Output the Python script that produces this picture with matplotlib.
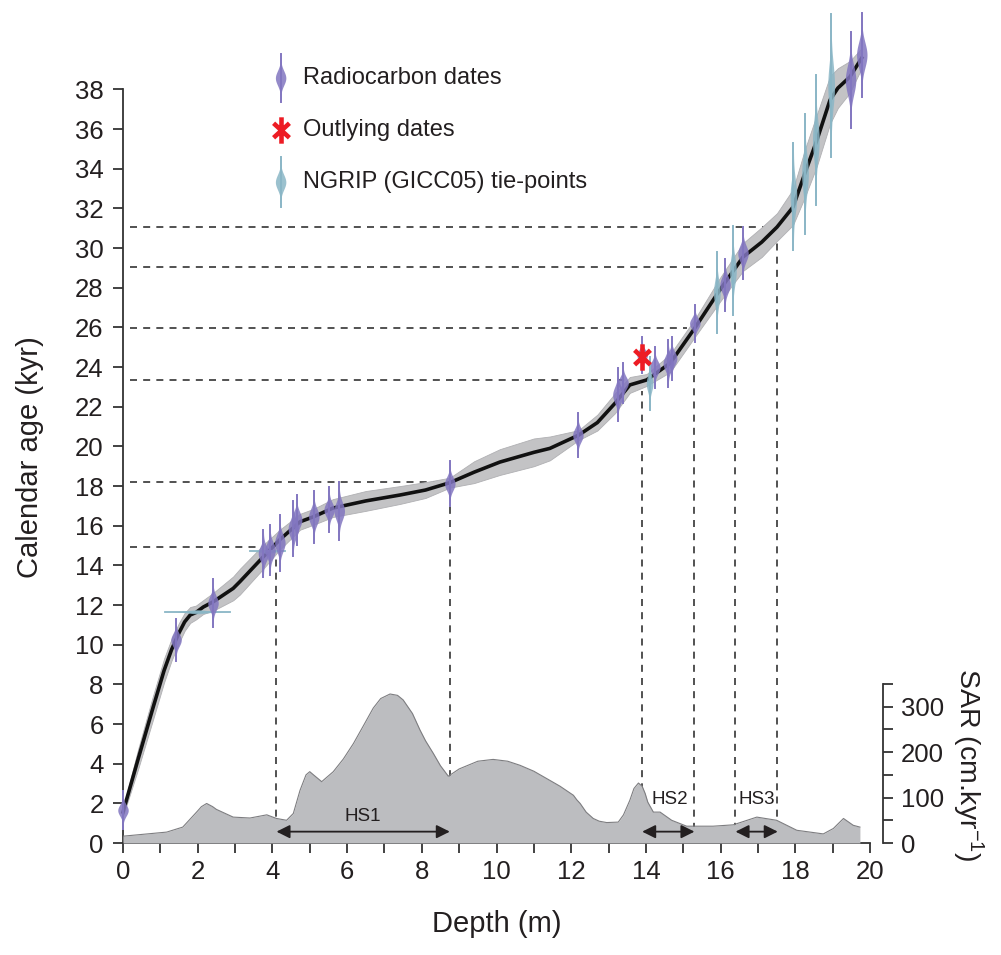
import numpy as np
import matplotlib
matplotlib.use("Agg")
import matplotlib.pyplot as plt
from matplotlib.path import Path

plt.rcParams['font.family'] = ['Liberation Sans', 'DejaVu Sans']
plt.rcParams['mathtext.fontset'] = 'custom'
plt.rcParams['mathtext.rm'] = 'Liberation Sans'
plt.rcParams['mathtext.it'] = 'Liberation Sans:italic'

# age-depth model (median) and half width of the uncertainty envelope
curve_depth = [0.0, 0.4, 0.8, 1.1, 1.3, 1.5, 1.65, 1.8, 1.95, 2.15, 2.42, 2.95, 3.13,
               3.76, 4.2, 4.74, 5.1, 5.62, 6.5, 7.42, 8.1, 8.75, 9.4, 10.09, 11.0,
               11.43, 12.2, 12.7, 13.17, 13.57, 14.02, 14.65, 15.31, 15.98, 16.6,
               17.1, 17.51, 17.94, 18.26, 18.58, 18.93, 19.14, 19.46, 19.78]
curve_age = [1.56, 4.2, 6.8, 8.7, 9.75, 10.6, 11.15, 11.5, 11.62, 11.9, 12.17, 12.84,
             13.18, 14.44, 15.3, 16.2, 16.45, 16.89, 17.25, 17.55, 17.8, 18.17, 18.7,
             19.21, 19.7, 19.9, 20.57, 21.2, 22.17, 23.1, 23.35, 24.2, 25.97, 27.89,
             29.55, 30.3, 31.06, 32.07, 33.79, 35.45, 37.47, 38.07, 38.63, 39.59]
curve_err = [0.2, 0.5, 0.6, 0.6, 0.55, 0.5, 0.45, 0.4, 0.35, 0.35, 0.45, 0.6, 0.65,
             0.6, 0.5, 0.4, 0.4, 0.45, 0.5, 0.45, 0.4, 0.25, 0.55, 0.65, 0.7,
             0.6, 0.25, 0.4, 0.5, 0.4, 0.3, 0.45, 0.45, 0.6, 0.7, 0.75, 0.7,
             0.9, 1.2, 1.3, 1.2, 1.0, 0.8, 0.5]

# radiocarbon dates: depth (m), age (kyr), half range (kyr)
c14_depth = [0.0, 1.42, 2.41, 3.76, 3.94, 4.2, 4.56, 4.65, 5.11, 5.52, 5.79, 8.75,
             12.18, 13.25, 13.39, 13.9, 14.24, 14.6, 14.69, 15.31, 16.12, 16.6,
             19.48, 19.78]
c14_age = [1.65, 10.24, 12.1, 14.6, 14.77, 15.13, 15.85, 16.3, 16.46, 16.81, 16.74,
           18.12, 20.57, 22.6, 23.2, 24.6, 23.98, 24.19, 24.44, 26.2, 28.16, 29.73,
           38.48, 39.74]
c14_err = [0.95, 1.06, 1.2, 1.2, 1.26, 1.4, 1.39, 1.26, 1.31, 1.13, 1.46, 1.13,
           1.1, 1.34, 1.0, 0.92, 1.04, 1.18, 1.09, 0.93, 1.31, 1.31, 2.42, 2.12]

# NGRIP tie-points with age uncertainty
tie_depth = [14.1, 15.9, 16.33, 17.95, 18.26, 18.55, 18.96]
tie_age = [23.18, 27.75, 28.86, 32.6, 33.74, 35.45, 38.2]
tie_err = [1.34, 2.05, 2.23, 2.7, 3.03, 3.28, 3.63]
# NGRIP tie-points with depth uncertainty
tieh_depth = [1.99, 3.87]
tieh_age = [11.66, 14.7]
tieh_err = [0.87, 0.47]

# outlier
out_depth = [13.9]
out_age = [24.5]

# guide lines
guide_age = [14.95, 18.2, 23.35, 25.97, 29.04, 31.05]
guide_hend = [3.95, 8.6, 13.57, 15.1, 15.7, 17.23]
guide_depth = [4.09, 8.75, 13.89, 15.3, 16.39, 17.5]
guide_vtop = [14.5, 17.0, 22.8, 25.1, 26.3, 30.7]

# sediment accumulation rate
sar_depth = [0.0, 1.17, 1.6, 1.97, 2.1, 2.24, 2.4, 2.5, 2.95, 3.4, 3.85, 4.11, 4.38,
             4.56, 4.74, 4.9, 5.0, 5.1, 5.32, 5.63, 5.9, 6.17, 6.45, 6.7, 6.9, 7.15,
             7.35, 7.5, 7.75, 7.95, 8.1, 8.31, 8.5, 8.71, 9.0, 9.5, 9.91, 10.3,
             10.63, 11.0, 11.34, 11.7, 12.06, 12.15, 12.24, 12.4, 12.59, 12.75,
             12.95, 13.26, 13.4, 13.57, 13.68, 13.8, 13.9, 13.98, 14.05, 14.2, 14.38,
             14.69, 15.09, 15.8, 16.34, 16.97, 17.5, 18.04, 18.75, 19.02, 19.29,
             19.55, 19.73]
sar = [15, 24, 35, 68, 80, 87, 80, 74, 57, 55, 62, 54, 50,
       65, 116, 150, 157, 150, 135, 157, 185, 219, 260, 297, 318, 328,
       325, 315, 285, 249, 225, 197, 170, 147, 163, 180, 184, 180,
       171, 158, 142, 125, 105, 95, 87, 68, 54, 48,
       45, 46, 62, 94, 120, 132, 125, 109, 90, 68, 68,
       50, 37, 37, 40, 57, 50, 28, 20, 32, 54,
       39, 35]

# Heinrich stadials
hs_names = ['HS1', 'HS2', 'HS3']
hs_start = [4.11, 13.9, 16.4]
hs_end = [8.75, 15.3, 17.53]
hs_text_x = [6.43, 14.65, 16.97]
hs_text_y = [58, 95, 95]

PURPLE = '#8276c0'
BLUE = '#8ab6c6'
RED = '#ed1c24'
DARK = '#231f20'


def spindle(ax, x, y, half, color, w, horizontal=False, z=4):
    t = np.linspace(-half, half, 80)
    prof = w * np.exp(-0.5 * (t / (half * 0.3)) ** 2)
    if horizontal:
        ax.fill_between(x + t, y - prof, y + prof, color=color, lw=0, alpha=0.85,
                        zorder=z, clip_on=False)
        ax.plot([x - half, x + half], [y, y], color=color, lw=1.3, zorder=z,
                clip_on=False)
    else:
        ax.fill_betweenx(y + t, x - prof, x + prof, color=color, lw=0, alpha=0.85,
                         zorder=z, clip_on=False)
        ax.plot([x, x], [y - half, y + half], color=color, lw=1.4, zorder=z,
                clip_on=False)


fig = plt.figure(figsize=(10.01, 9.55), dpi=100)
ax = fig.add_axes([123 / 1001, 112 / 955, 747 / 1001, 813 / 955])
ax2 = fig.add_axes([123 / 1001, 112 / 955, 759.7 / 1001, 159 / 955])
ax.set_zorder(1)
ax2.set_zorder(2)
ax2.patch.set_visible(False)

# guide lines
for a, he, d, vt in zip(guide_age, guide_hend, guide_depth, guide_vtop):
    ax.plot([0.2, he], [a, a], color='#333333', lw=1.2, dashes=(4.2, 3.7), zorder=1)
    ax.plot([d, d], [0, vt], color='#333333', lw=1.2, dashes=(4.2, 3.7), zorder=1)

# envelope and median
cd = np.array(curve_depth)
ca = np.array(curve_age)
ce = np.array(curve_err)
ax.fill_between(cd, ca - ce, ca + ce, color='#c3c3c5', lw=0.6, edgecolor='#b0b0b3',
                zorder=2, clip_on=False)
ax.plot(cd, ca, color='#111111', lw=2.6, zorder=3, clip_on=False)

for d, a, e in zip(tieh_depth, tieh_age, tieh_err):
    spindle(ax, d, a, e, BLUE, 0.1, horizontal=True)
for d, a, e in zip(c14_depth, c14_age, c14_err):
    spindle(ax, d, a, e, PURPLE, 0.14)
for d, a, e in zip(tie_depth, tie_age, tie_err):
    spindle(ax, d, a, e, BLUE, 0.09)

star = Path([(0, -1), (0, 1), (-0.6, -0.55), (0.6, 0.55), (-0.6, 0.55), (0.6, -0.55)],
            [Path.MOVETO, Path.LINETO] * 3)
ax.plot(out_depth, out_age, ls='none', marker=star, ms=19, mew=3.3, color=RED,
        zorder=6)

# legend drawn by hand
spindle(ax, 4.22, 38.58, 1.21, PURPLE, 0.14)
ax.plot([4.22], [35.96], ls='none', marker=star, ms=19, mew=3.3, color=RED, zorder=6)
spindle(ax, 4.22, 33.33, 1.24, BLUE, 0.14)
for yy, txt in zip([38.58, 35.96, 33.33],
                   ['Radiocarbon dates', 'Outlying dates', 'NGRIP (GICC05) tie-points']):
    ax.text(4.82, yy, txt, fontsize=17, color=DARK, va='center', ha='left')

ax.set_xlim(0, 20)
ax.set_ylim(0, 813 / 19.83)
ax.set_xticks(np.arange(0, 21, 2))
ax.set_xticks(np.arange(1, 20, 2), minor=True)
ax.set_yticks(np.arange(0, 39, 2))
for s in ['top', 'right']:
    ax.spines[s].set_visible(False)
ax.spines['left'].set_bounds(0, 38)
ax.spines['bottom'].set_bounds(0, 20)
for s in ['left', 'bottom']:
    ax.spines[s].set_linewidth(1.3)
    ax.spines[s].set_color('#333333')
ax.tick_params(which='both', direction='out', length=7, width=1.3, color='#333333',
               labelsize=18.5, labelcolor=DARK)
ax.tick_params(axis='y', pad=7)
ax.tick_params(axis='x', pad=5)
ax.set_xlabel('Depth (m)', fontsize=21, color=DARK)
ax.set_ylabel('Calendar age (kyr)', fontsize=21, color=DARK)
ax.xaxis.set_label_coords(0.5, -0.083)
ax.yaxis.set_label_coords(-0.106, 0.475)

# SAR panel
ax2.fill_between(sar_depth, 0, sar, color='#bcbdc0', lw=0, zorder=1)
ax2.plot(sar_depth, sar, color='#7d7d80', lw=0.8, zorder=2)
for name, s, e, tx, ty in zip(hs_names, hs_start, hs_end, hs_text_x, hs_text_y):
    ax2.annotate('', xy=(s, 25), xytext=(e, 25),
                 arrowprops=dict(arrowstyle='<|-|>', color=DARK, lw=1.3,
                                 mutation_scale=20, shrinkA=0, shrinkB=0))
    ax2.text(tx, ty, name, fontsize=13.5, color=DARK, ha='center', va='center')

ax2.set_xlim(0, 759.7 / 37.35)
ax2.set_ylim(0, 350)
ax2.set_xticks([])
for s in ['top', 'left', 'bottom']:
    ax2.spines[s].set_visible(False)
ax2.spines['right'].set_linewidth(1.3)
ax2.spines['right'].set_color('#333333')
ax2.yaxis.tick_right()
ax2.set_yticks([0, 100, 200, 300])
ax2.set_yticks([50, 150, 250, 350], minor=True)
ax2.tick_params(which='both', direction='out', length=7, width=1.3, color='#333333',
                labelsize=18.5, labelcolor=DARK, pad=6)
ax2.yaxis.set_label_position('right')
ax2.set_ylabel('SAR (cm.kyr$^{-1}$)', fontsize=20.5, color=DARK, rotation=270)
ax2.yaxis.set_label_coords(1.135, 0.49)

fig.savefig('out.png', dpi=100)
